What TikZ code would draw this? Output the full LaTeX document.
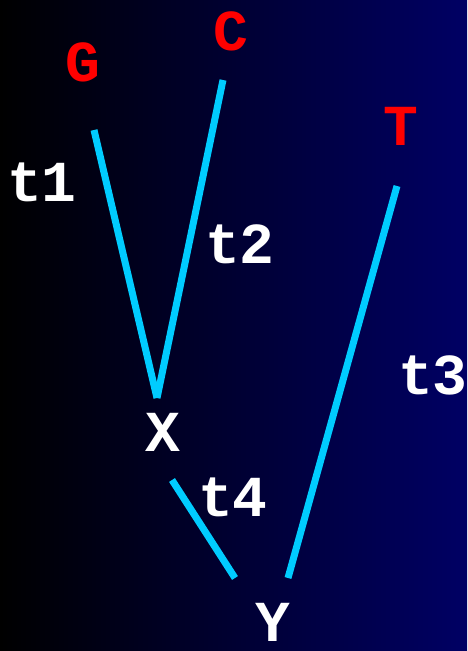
\documentclass[tikz,border=0pt]{standalone}
\usepackage{fontspec}
\setmonofont{Liberation Mono}
\usepackage{xcolor}
\usetikzlibrary{positioning}
\definecolor{bgnavy}{RGB}{0,0,100}
\definecolor{branchcol}{RGB}{0,204,255}
\definecolor{basecol}{RGB}{255,0,0}
\tikzset{
  taxon/.style={text=basecol,font=\fontsize{58}{58}\selectfont\ttfamily\bfseries,inner sep=0pt},
  inner/.style={text=white,font=\fontsize{58}{58}\selectfont\ttfamily\bfseries,inner sep=0pt},
  blabel/.style={text=white,font=\fontsize{58}{58}\selectfont\ttfamily\bfseries,inner sep=0pt}
}

\begin{document}
\begin{tikzpicture}[
  x=1pt,y=-1pt,
  branch/.style={branchcol,line width=7pt}
]
  \shade[left color=black,right color=bgnavy] (0,0) rectangle (467,651);
  \useasboundingbox (0,0) rectangle (467,651);
  % taxa and ancestors
  \node[taxon] (g) at (83,62) {G};
  \node[taxon] (c) at (231,31) {C};
  \node[taxon] (t) at (401,126) {T};
  \node[inner] (x) at (163,432) {X};
  \node[inner] (y) at (273,622) {Y};
  % branch ends
  \coordinate (gtop) at (94,130);
  \coordinate (ctop) at (223,80);
  \coordinate (ttop) at (397,186);
  \coordinate (xbot) at (157,398);
  \coordinate (xtop) at (172,480);
  \coordinate (ybot4) at (235,578);
  \coordinate (ybot3) at (288,578);
  \draw[branch] (gtop) -- (xbot);
  \draw[branch] (ctop) -- (xbot);
  \draw[branch] (ttop) -- (ybot3);
  \draw[branch] (xtop) -- (ybot4);
  % branch labels
  \node[blabel] (t1) at (42,182) {t1};
  \node[blabel] (t2) at (240,244) {t2};
  \node[blabel] (t3) at (433,375) {t3};
  \node[blabel] (t4) at (233,497) {t4};
\end{tikzpicture}
\end{document}
